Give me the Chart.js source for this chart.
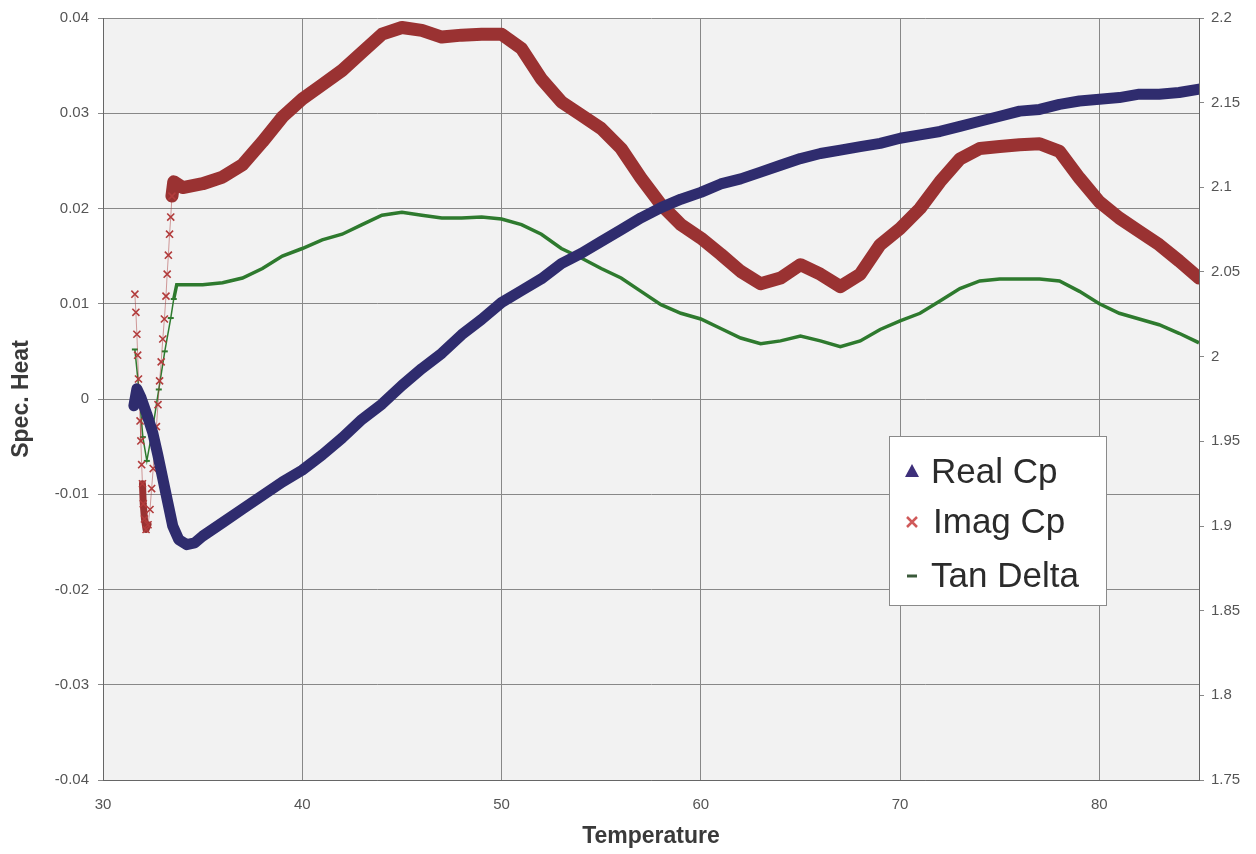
<!DOCTYPE html>
<html>
<head>
<meta charset="utf-8">
<script src="https://cdn.jsdelivr.net/npm/chart.js@4/dist/chart.umd.min.js"></script>
<style>
  body { margin: 0; background: #fff; }
</style>
</head>
<body>
<canvas id="cpChart" width="1256" height="854"></canvas>
<script>
const seriesNames = ['Real Cp', 'Imag Cp', 'Tan Delta'];
const xTicks = [30, 40, 50, 60, 70, 80];

// Real Cp (right axis)
const realTemp = [31.55, 31.7, 31.9, 32.2, 32.5, 32.75, 33.0, 33.25, 33.5, 33.8, 34.2, 34.6,
  35, 36, 37, 38, 39, 40, 41, 42, 43, 44, 45, 46, 47, 48, 49, 50,
  51, 52, 53, 54, 55, 56, 57, 58, 59, 60, 61, 62, 63, 64, 65, 66, 67,
  68, 69, 70, 71, 72, 73, 74, 75, 76, 77, 78, 79, 80, 81, 82, 83, 84, 85];
const realCp = [1.971, 1.981, 1.976, 1.966, 1.955, 1.942, 1.928, 1.914, 1.900, 1.892, 1.889, 1.890,
  1.894, 1.902, 1.910, 1.918, 1.926, 1.933, 1.942, 1.952, 1.963, 1.972, 1.983, 1.993, 2.002, 2.013, 2.022, 2.032,
  2.039, 2.046, 2.055, 2.061, 2.068, 2.075, 2.082, 2.088, 2.093, 2.097, 2.102, 2.105, 2.109, 2.113, 2.117, 2.120, 2.122,
  2.124, 2.126, 2.129, 2.131, 2.133, 2.136, 2.139, 2.142, 2.145, 2.146, 2.149, 2.151, 2.152, 2.153, 2.155, 2.155, 2.156, 2.158];

// Imag Cp (left axis)
const imagTemp = [31.6, 31.65, 31.7, 31.74, 31.78, 31.82, 31.86, 31.9, 31.94, 31.98, 32.02, 32.08, 32.16, 32.26,
  32.36, 32.44, 32.52, 32.6, 32.68, 32.76, 32.84, 32.92, 33.0, 33.08, 33.16, 33.22, 33.28, 33.34, 33.4, 33.46, 33.55,
  34, 35, 36, 37, 38, 39, 40, 41, 42, 43, 44, 45, 46, 47, 48, 49, 50,
  51, 52, 53, 54, 55, 56, 57, 58, 59, 60, 61, 62, 63, 64, 65, 66, 67,
  68, 69, 70, 71, 72, 73, 74, 75, 76, 77, 78, 79, 80, 81, 82, 83, 84, 85];
const imagCp = [0.0110, 0.0091, 0.0068, 0.0046, 0.0021, 0.0001, -0.0023, -0.0044, -0.0069, -0.0089, -0.0110, -0.0126, -0.0137, -0.0132,
  -0.0116, -0.0094, -0.0073, -0.0049, -0.0029, -0.0006, 0.0019, 0.0039, 0.0063, 0.0084, 0.0108, 0.0131, 0.0151, 0.0173, 0.0191, 0.0213, 0.0228,
  0.0222, 0.0226, 0.0233, 0.0246, 0.0270, 0.0296, 0.0315, 0.0330, 0.0345, 0.0364, 0.0383, 0.0390, 0.0387, 0.0380, 0.0382, 0.0383, 0.0383,
  0.0368, 0.0336, 0.0312, 0.0298, 0.0284, 0.0263, 0.0232, 0.0204, 0.0183, 0.0169, 0.0152, 0.0134, 0.0121, 0.0127, 0.0141, 0.0131, 0.0118,
  0.0131, 0.0162, 0.0179, 0.0200, 0.0228, 0.0252, 0.0263, 0.0265, 0.0267, 0.0268, 0.0260, 0.0232, 0.0207, 0.0190, 0.0176, 0.0162, 0.0145, 0.0127];

// Tan Delta (left axis)
const tanTemp = [31.6, 31.8, 32.0, 32.2, 32.5, 32.8, 33.1, 33.4, 33.55, 33.7,
  34, 35, 36, 37, 38, 39, 40, 41, 42, 43, 44, 45, 46, 47, 48, 49, 50,
  51, 52, 53, 54, 55, 56, 57, 58, 59, 60, 61, 62, 63, 64, 65, 66, 67,
  68, 69, 70, 71, 72, 73, 74, 75, 76, 77, 78, 79, 80, 81, 82, 83, 84, 85];
const tanDelta = [0.0052, 0.0010, -0.0040, -0.0065, -0.0030, 0.0010, 0.0050, 0.0085, 0.0105, 0.0120,
  0.0120, 0.0120, 0.0122, 0.0127, 0.0137, 0.0150, 0.0158, 0.0167, 0.0173, 0.0183, 0.0193, 0.0196, 0.0193, 0.0190, 0.0190, 0.0191, 0.0189,
  0.0183, 0.0173, 0.0158, 0.0148, 0.0137, 0.0127, 0.0113, 0.0099, 0.0090, 0.0084, 0.0074, 0.0064, 0.0058, 0.0061, 0.0066, 0.0061, 0.0055,
  0.0061, 0.0073, 0.0082, 0.0090, 0.0103, 0.0116, 0.0124, 0.0126, 0.0126, 0.0126, 0.0124, 0.0113, 0.0100, 0.0090, 0.0084, 0.0078, 0.0069, 0.0059];

const navy = '#2f2c6e';
const brick = '#9a3232';
const green = '#2e7a2e';

const pairs = (xs, ys) => xs.map((x, i) => ({ x, y: ys[i] }));
const fmt = v => String(Number(v.toFixed(2)));

Chart.defaults.font.family = '"Liberation Sans", Arial, sans-serif';

const plotBackground = {
  id: 'plotBackground',
  beforeDraw(chart) {
    const { ctx, chartArea: a } = chart;
    ctx.save();
    ctx.fillStyle = '#f2f2f2';
    ctx.fillRect(a.left, a.top, a.right - a.left, a.bottom - a.top);
    ctx.restore();
  }
};

const legendBox = {
  id: 'legendBox',
  afterDraw(chart) {
    const { ctx, chartArea: a } = chart;
    const left = a.left + 786, top = a.top + 418;
    ctx.save();
    ctx.fillStyle = '#fff';
    ctx.strokeStyle = '#8a8a8a';
    ctx.lineWidth = 1;
    ctx.fillRect(left + 0.5, top + 0.5, 217, 169);
    ctx.strokeRect(left + 0.5, top + 0.5, 217, 169);

    ctx.font = '35px "Liberation Sans", Arial, sans-serif';
    ctx.fillStyle = '#2b2b2b';
    ctx.textBaseline = 'alphabetic';
    const rows = [47, 97, 151];
    ctx.fillText(seriesNames[0], left + 42, top + rows[0]);
    ctx.fillText(seriesNames[1], left + 44, top + rows[1]);
    ctx.fillText(seriesNames[2], left + 42, top + rows[2]);

    // markers
    const mx = left + 23;
    ctx.fillStyle = '#3d2f7a';
    ctx.beginPath();
    ctx.moveTo(mx, top + rows[0] - 19);
    ctx.lineTo(mx + 7, top + rows[0] - 6);
    ctx.lineTo(mx - 7, top + rows[0] - 6);
    ctx.closePath();
    ctx.fill();

    ctx.strokeStyle = '#d05a5a';
    ctx.lineWidth = 2.5;
    const cy = top + rows[1] - 11;
    ctx.beginPath();
    ctx.moveTo(mx - 5, cy - 5); ctx.lineTo(mx + 5, cy + 5);
    ctx.moveTo(mx + 5, cy - 5); ctx.lineTo(mx - 5, cy + 5);
    ctx.stroke();

    ctx.strokeStyle = '#3a5a3a';
    ctx.lineWidth = 3;
    ctx.beginPath();
    ctx.moveTo(mx - 5, top + rows[2] - 11);
    ctx.lineTo(mx + 5, top + rows[2] - 11);
    ctx.stroke();
    ctx.restore();
  }
};

const tickFont = { size: 15 };
const gridColor = '#888';

// thin, marker-only start of Imag Cp, with a denser block at its minimum
const imagStartWidth = c => {
  const x = c.p1.parsed.x;
  if (x > 32.0 && x < 32.3) return 7;
  return x <= 33.5 ? 1 : 13;
};

new Chart(document.getElementById('cpChart'), {
  type: 'scatter',
  data: {
    datasets: [
      {
        label: seriesNames[0],
        data: pairs(realTemp, realCp),
        yAxisID: 'y1',
        showLine: true,
        borderColor: navy,
        backgroundColor: navy,
        borderWidth: 11,
        borderJoinStyle: 'round',
        borderCapStyle: 'round',
        pointRadius: 0
      },
      {
        label: seriesNames[1],
        data: pairs(imagTemp, imagCp),
        yAxisID: 'y',
        showLine: true,
        borderColor: brick,
        backgroundColor: brick,
        borderWidth: 13,
        borderJoinStyle: 'round',
        borderCapStyle: 'round',
        segment: {
          borderWidth: imagStartWidth,
          borderColor: c => {
            const x = c.p1.parsed.x;
            if (x > 32.0 && x < 32.3) return brick;
            return x <= 33.5 ? 'rgba(170,60,60,0.5)' : brick;
          }
        },
        pointStyle: 'crossRot',
        pointRadius: c => c.parsed && c.parsed.x < 33.5 ? 5 : 0,
        pointBorderColor: '#b23c3c',
        pointBorderWidth: 1.6
      },
      {
        label: seriesNames[2],
        data: pairs(tanTemp, tanDelta),
        yAxisID: 'y',
        showLine: true,
        borderColor: green,
        backgroundColor: green,
        borderWidth: 3.5,
        segment: {
          borderWidth: c => c.p1.parsed.x <= 33.6 ? 1.5 : 3.5
        },
        pointStyle: 'line',
        pointRadius: c => c.parsed && c.parsed.x < 33.6 ? 3 : 0,
        pointBorderColor: green,
        pointBorderWidth: 2
      }
    ]
  },
  options: {
    responsive: false,
    animation: false,
    layout: { padding: { top: 16, right: 0, bottom: 0, left: 0 } },
    plugins: {
      legend: { display: false },
      tooltip: { enabled: false }
    },
    scales: {
      x: {
        type: 'linear',
        min: 30,
        max: 85,
        afterBuildTicks: s => { s.ticks = xTicks.map(v => ({ value: v })); },
        afterFit: s => { s.height = 74; },
        grid: { color: gridColor, drawTicks: false },
        border: { color: '#666' },
        ticks: { padding: 16, color: '#555', font: tickFont },
        title: {
          display: true,
          text: 'Temperature',
          color: '#3a3a3a',
          font: { size: 23, weight: 'bold' },
          padding: { bottom: 4 }
        }
      },
      y: {
        position: 'left',
        min: -0.04,
        max: 0.04,
        afterFit: s => { s.width = 103; },
        grid: { color: gridColor, tickLength: 5 },
        border: { color: '#666' },
        ticks: { stepSize: 0.01, padding: 9, color: '#555', font: tickFont, callback: fmt },
        title: {
          display: true,
          text: 'Spec. Heat',
          color: '#3a3a3a',
          font: { size: 23, weight: 'bold' },
          padding: { top: 8 }
        }
      },
      y1: {
        position: 'right',
        min: 1.75,
        max: 2.2,
        afterFit: s => { s.width = 57; },
        grid: { drawOnChartArea: false, color: gridColor, tickLength: 5 },
        border: { color: '#666' },
        ticks: { stepSize: 0.05, padding: 7, color: '#555', font: tickFont, callback: fmt }
      }
    }
  },
  plugins: [plotBackground, legendBox]
});
</script>
</body>
</html>
